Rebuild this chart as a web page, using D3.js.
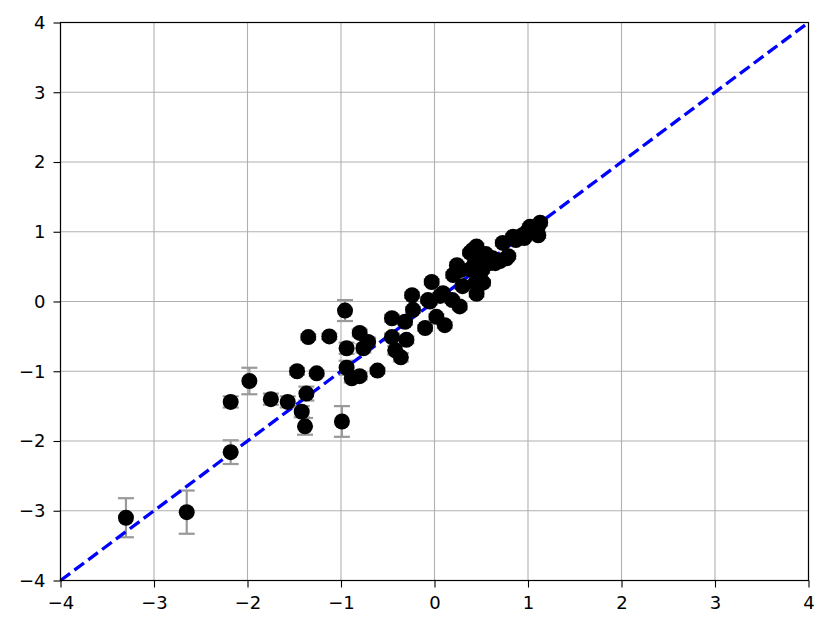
<!DOCTYPE html>
<html><head><meta charset="utf-8">
<script src="https://cdn.jsdelivr.net/npm/d3@7"></script>
<style>body{margin:0;background:#fff}svg{display:block}</style>
</head><body>
<svg id="c" width="831" height="631"></svg>
<script>
const xVals = [-3.30,-2.65,-2.18,-2.18,-1.98,-1.75,-1.57,-1.47,-1.42,-1.385,-1.37,-1.35,-1.26,-1.125,-0.99,-0.957,-0.94,-0.94,-0.885,-0.80,-0.80,-0.76,-0.71,-0.61,-0.455,-0.455,-0.42,-0.36,-0.30,-0.315,-0.24,-0.23,-0.10,-0.03,-0.05,0.02,0.09,0.11,0.19,0.20,0.27,0.28,0.41,0.45,0.38,0.43,0.44,0.45,0.24,0.51,0.52,0.56,0.59,0.65,0.73,0.77,0.79,0.84,0.87,0.94,0.99,1.02,1.10,1.13,1.11,0.96,0.49,0.55,0.62,0.70,0.06,-0.07,0.38,0.30,0.48];
const yVals = [-3.10,-3.02,-2.16,-1.44,-1.14,-1.40,-1.44,-1.00,-1.58,-1.79,-1.32,-0.51,-1.03,-0.50,-1.72,-0.13,-0.67,-0.95,-1.10,-1.07,-0.45,-0.67,-0.58,-0.99,-0.24,-0.51,-0.70,-0.80,-0.55,-0.29,0.09,-0.12,-0.38,0.28,0.00,-0.22,0.12,-0.34,0.02,0.38,-0.07,0.45,0.74,0.79,0.70,0.54,0.27,0.11,0.52,0.45,0.27,0.60,0.55,0.55,0.84,0.62,0.65,0.93,0.88,0.95,1.00,1.07,1.05,1.13,0.95,0.91,0.69,0.68,0.62,0.58,0.08,0.02,0.46,0.22,0.40];
const yErr = [0.28,0.31,0.17,0.08,0.19,0.08,0.08,0.05,0.08,0.12,0.10,0.04,0.04,0.04,0.22,0.15,0.08,0.10,0.06,0.05,0.05,0.06,0.06,0.04,0.05,0.05,0.06,0.06,0.05,0.04,0.04,0.04,0.04,0.04,0.04,0.04,0.04,0.04,0.04,0.04,0.04,0.04,0.04,0.04,0.04,0.04,0.04,0.04,0.04,0.04,0.04,0.04,0.04,0.04,0.04,0.04,0.04,0.04,0.04,0.04,0.04,0.04,0.04,0.04,0.04,0.04,0.04,0.04,0.04,0.04,0.04,0.04,0.04,0.04,0.04];
const tickVals = [-4,-3,-2,-1,0,1,2,3,4];
const lineEnds = [-4,4];

const svg = d3.select("#c");
const L=60.5,R=808.5,T=22.5,B=580.5;
const x = d3.scaleLinear().domain([-4,4]).range([L,R]);
const y = d3.scaleLinear().domain([-4,4]).range([B,T]);
const fmt = d => d3.format("d")(d);

// grid
const g = svg.append("g");
g.selectAll(".gx").data(tickVals).enter().append("line")
  .attr("x1",d=>x(d)).attr("x2",d=>x(d)).attr("y1",T).attr("y2",B)
  .attr("stroke","#b0b0b0").attr("stroke-width",1.1);
g.selectAll(".gy").data(tickVals).enter().append("line")
  .attr("y1",d=>y(d)).attr("y2",d=>y(d)).attr("x1",L).attr("x2",R)
  .attr("stroke","#b0b0b0").attr("stroke-width",1.1);

const data = xVals.map((v,i)=>({x:v,y:yVals[i],e:yErr[i]}));

// error bars
const eb = svg.append("g").attr("stroke","#999999").attr("stroke-width",2.2);
data.forEach(d=>{
  eb.append("line").attr("x1",x(d.x)).attr("x2",x(d.x)).attr("y1",y(d.y-d.e)).attr("y2",y(d.y+d.e));
  [d.y-d.e,d.y+d.e].forEach(v=>{
    eb.append("line").attr("x1",x(d.x)-8).attr("x2",x(d.x)+8).attr("y1",y(v)).attr("y2",y(v));
  });
});

// diagonal
svg.append("line")
  .attr("x1",x(lineEnds[0])).attr("y1",y(lineEnds[0]))
  .attr("x2",x(lineEnds[1])).attr("y2",y(lineEnds[1]))
  .attr("stroke","#0000ff").attr("stroke-width",3.3).attr("stroke-dasharray","12,5.3");

// points
svg.append("g").selectAll("circle").data(data).enter().append("circle")
  .attr("cx",d=>x(d.x)).attr("cy",d=>y(d.y)).attr("r",8).attr("fill","#000");

// axes
const ax = svg.append("g").attr("transform",`translate(0,${B})`)
  .call(d3.axisBottom(x).tickValues(tickVals).tickFormat(fmt).tickSize(7).tickPadding(9));
const ay = svg.append("g").attr("transform",`translate(${L},0)`)
  .call(d3.axisLeft(y).tickValues(tickVals).tickFormat(fmt).tickSize(7).tickPadding(8));
[ax,ay].forEach(a=>{
  a.select(".domain").remove();
  a.selectAll("line").attr("stroke","#000").attr("stroke-width",1.1);
  a.selectAll("text").attr("font-family","DejaVu Sans").attr("font-size",18).attr("fill","#000");
});
svg.append("rect").attr("x",L).attr("y",T).attr("width",R-L).attr("height",B-T)
  .attr("fill","none").attr("stroke","#000").attr("stroke-width",1.2);
</script>
</body></html>
